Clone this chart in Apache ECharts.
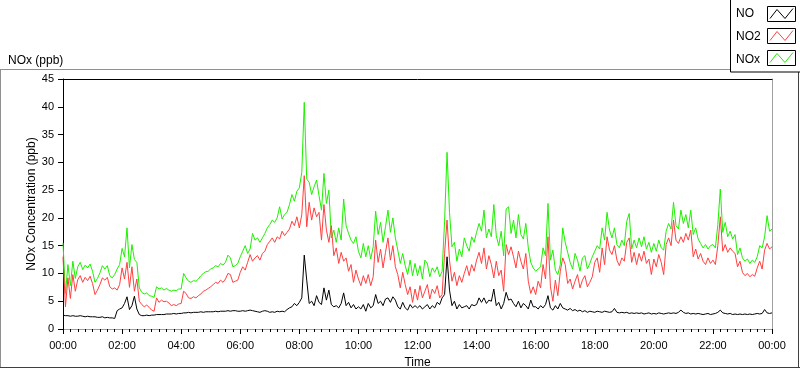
<!DOCTYPE html>
<html><head><meta charset="utf-8">
<script src="https://cdn.jsdelivr.net/npm/echarts/dist/echarts.min.js"></script>
<style>html,body{margin:0;padding:0;background:#fff}#c{width:800px;height:369px}</style>
</head><body><div id="c"></div>
<script>
// ---- data (5-minute samples, 00:00 .. 24:00) ----
const stepMinutes = 5;
const seriesNames = ['NO', 'NO2', 'NOx'];
const chartTitle = 'NOx (ppb)';
const yAxisTitle = 'NOx Concentration (ppb)';
const xAxisTitle = 'Time';
const yMin = 0, yMax = 45, yStep = 5;
const xMinMinutes = 0, xMaxMinutes = 1440, xStepMinutes = 120;

const no = [
  2.5, 2.4, 2.4, 2.3, 2.4, 2.3, 2.3, 2.4, 2.3, 2.2, 2.3, 2.2,
  2.2, 2.2, 2.1, 2.1, 2.2, 2.0, 2.1, 2.0, 2.0, 1.9, 3.3, 3.6,
  3.8, 4.6, 5.8, 3.5, 4.2, 5.9, 3.6, 2.6, 2.4, 2.4, 2.5, 2.4,
  2.5, 2.5, 2.6, 2.6, 2.6, 2.6, 2.7, 2.7, 2.7, 2.8, 2.7, 2.8,
  2.8, 2.9, 2.9, 3.0, 2.9, 3.0, 3.0, 3.0, 3.1, 3.0, 3.1, 3.1,
  3.1, 3.1, 3.2, 3.1, 3.2, 3.2, 3.2, 3.3, 3.2, 3.3, 3.3, 3.2,
  3.2, 3.3, 3.2, 3.3, 3.4, 3.3, 3.2, 3.1, 3.0, 3.2, 3.3, 3.2,
  3.0, 3.1, 3.0, 3.2, 3.1, 3.2, 3.1, 3.5, 3.8, 4.0, 4.6, 4.2,
  4.8, 5.6, 13.3, 8.8, 4.6, 5.0, 4.2, 6.0, 4.8, 4.4, 7.4, 5.2,
  7.0, 4.4, 4.0, 4.2, 3.8, 4.6, 6.5, 4.2, 4.8, 3.8, 4.4, 3.6,
  4.0, 3.6, 4.4, 3.2, 4.6, 3.8, 4.2, 6.2, 4.6, 5.0, 4.2, 5.4,
  5.6, 4.8, 5.8, 5.2, 4.0, 3.6, 4.8, 3.8, 3.4, 4.4, 3.8, 4.2,
  3.8, 4.2, 3.6, 4.0, 4.4, 3.6, 4.2, 3.8, 4.8, 4.4, 5.6, 6.2,
  13.0, 7.0, 4.2, 5.0, 3.6, 4.4, 3.8, 4.0, 4.2, 3.6, 4.4, 4.2,
  4.4, 5.6, 4.8, 5.6, 4.6, 5.2, 5.0, 7.2, 4.2, 4.8, 3.6, 4.6,
  6.6, 5.2, 5.4, 4.6, 4.0, 5.0, 3.8, 4.6, 4.2, 3.6, 5.2, 4.0,
  4.0, 3.6, 4.2, 3.8, 4.4, 6.0, 3.8, 3.4, 4.2, 3.6, 4.6, 3.8,
  3.6, 3.4, 3.7, 3.3, 3.5, 3.2, 3.4, 3.1, 3.3, 3.0, 3.2, 3.1,
  3.0, 3.2, 3.1, 3.0, 3.2, 3.1, 3.0, 3.1, 3.7, 3.0, 2.9, 3.0,
  2.9, 3.0, 2.8, 2.9, 2.8, 2.9, 2.8, 2.9, 2.7, 2.8, 2.9, 2.7,
  2.8, 2.7, 2.9, 2.8, 2.7, 2.8, 2.9, 2.8, 2.9, 2.8, 3.0, 3.4,
  3.0, 2.8, 2.9, 2.7, 2.8, 2.7, 2.8, 2.7, 2.6, 2.7, 2.8, 2.6,
  2.7, 2.8, 3.0, 3.4, 2.9, 2.8, 2.7, 2.8, 2.6, 2.7, 2.6, 2.7,
  2.6, 2.7, 2.6, 2.7, 2.6, 2.7, 2.8, 2.7, 2.8, 3.5, 2.9, 2.8,
  2.9
];

const no2 = [
  13.0, 4.0, 9.2, 5.5, 9.8, 6.8, 8.9, 9.6, 8.4, 9.3, 8.7, 9.5,
  8.2, 6.2, 7.0, 8.0, 9.2, 8.8, 9.3, 7.6, 7.2, 7.4, 7.0, 8.0,
  11.0, 9.0, 12.0, 7.5, 11.2, 6.8, 9.0, 5.0, 4.4, 4.0, 4.3, 3.9,
  3.4, 3.2, 5.6, 4.8, 5.2, 4.9, 5.0, 4.7, 4.2, 4.4, 4.2, 4.5,
  4.6, 6.8, 6.4, 5.6, 5.5, 5.8, 5.6, 6.0, 6.3, 6.8, 7.0, 7.3,
  7.6, 8.0, 8.4, 8.2, 8.8, 8.4, 9.0, 10.0, 9.8, 8.4, 8.6, 8.8,
  10.2, 11.2, 10.6, 12.0, 13.4, 12.2, 12.8, 13.2, 12.4, 13.6, 14.0, 15.2,
  15.8, 16.4, 15.6, 16.6, 16.2, 17.6, 16.8, 17.4, 18.0, 19.4, 18.6, 20.2,
  18.2, 20.6, 27.6, 18.4, 22.8, 19.6, 21.8, 20.2, 21.0, 16.0, 22.4, 17.8,
  15.6, 18.6, 13.2, 14.6, 11.8, 13.8, 12.2, 12.8, 10.4, 11.6, 8.4, 10.6,
  9.0, 7.8, 9.6, 8.2, 9.8, 7.8, 9.4, 16.0, 12.0, 14.4, 11.0, 13.8,
  16.4, 12.4, 15.0, 11.2, 9.8, 7.4, 10.2, 8.0, 6.2, 7.6, 4.8, 7.2,
  5.2, 7.8, 5.6, 6.8, 8.0, 5.4, 7.2, 6.4, 7.8, 5.6, 6.2, 13.6,
  19.6, 12.4, 8.6, 10.2, 7.8, 9.6, 8.4, 10.0, 11.4, 9.6, 11.6, 10.4,
  12.4, 13.8, 11.8, 14.6, 10.8, 13.2, 11.6, 9.2, 12.2, 9.6, 10.6, 6.8,
  15.2, 13.4, 14.8, 13.0, 11.0, 14.0, 12.2, 10.8, 13.6, 8.6, 6.4, 7.6,
  6.2, 8.6, 7.4, 11.6, 9.0, 16.6, 7.6, 5.0, 8.8, 6.0, 10.4, 12.8,
  11.6, 8.2, 9.0, 7.2, 8.6, 9.8, 7.4, 8.8, 9.6, 7.6, 8.4, 9.4,
  12.0, 12.8, 10.2, 14.6, 11.6, 16.6, 14.2, 13.4, 15.0, 12.4, 11.4, 12.8,
  12.2, 15.6, 16.4, 12.0, 13.8, 11.6, 13.6, 12.2, 14.0, 11.8, 12.6, 9.8,
  12.6, 11.2, 13.4, 12.0, 9.8, 15.2, 16.4, 15.0, 19.6, 16.0, 15.4, 16.6,
  15.6, 17.2, 16.0, 17.8, 13.0, 14.4, 12.6, 13.6, 12.2, 11.6, 12.8, 11.8,
  12.4, 11.6, 15.0, 20.2, 14.0, 15.2, 13.8, 14.6, 14.0, 13.6, 11.2, 12.2,
  10.2, 9.6, 10.0, 9.4, 9.8, 9.5, 11.0, 12.2, 10.8, 14.2, 15.4, 14.4,
  14.8
];

const nox = [
  15.5, 6.4, 11.6, 7.8, 12.2, 9.1, 11.2, 12.0, 10.7, 11.5, 11.0, 11.7,
  10.4, 8.4, 9.1, 10.1, 11.4, 10.8, 11.4, 9.6, 9.2, 9.8, 10.8, 11.6,
  14.5, 13.0, 18.2, 11.0, 15.2, 12.5, 12.0, 7.4, 6.6, 6.3, 6.5, 6.0,
  5.9, 5.7, 7.6, 7.2, 7.4, 7.0, 7.3, 7.0, 6.8, 7.0, 6.9, 7.2,
  7.2, 10.0, 9.2, 8.6, 8.4, 8.7, 8.6, 9.0, 9.6, 10.0, 10.3, 10.4,
  10.8, 11.0, 11.4, 11.2, 11.8, 11.5, 12.0, 13.3, 12.8, 11.2, 11.4, 11.8,
  13.0, 14.0, 15.0, 13.6, 14.4, 17.2, 16.0, 16.4, 15.6, 16.4, 17.2, 18.2,
  18.8, 19.6, 19.2, 20.0, 22.0, 19.8, 20.6, 21.0, 22.4, 24.2, 23.0, 24.8,
  25.4, 28.2, 40.8, 27.0, 26.4, 24.2, 25.6, 26.8, 24.0, 21.4, 28.0, 22.6,
  25.0, 16.4, 17.8, 15.6, 18.2, 16.0, 23.4, 18.6, 17.2, 16.0, 15.4, 16.6,
  14.0, 12.8, 15.4, 13.0, 15.0, 12.6, 14.8, 21.2, 17.0, 19.2, 15.6, 18.4,
  21.4, 17.4, 20.0, 16.4, 14.2, 11.8, 13.6, 11.4, 9.8, 12.4, 9.6, 11.8,
  9.6, 11.4, 9.0, 12.4, 11.8, 9.4, 11.0, 10.2, 11.2, 9.4, 10.4, 19.4,
  31.8, 21.0, 14.8, 15.6, 12.2, 14.4, 13.0, 16.4, 15.0, 14.0, 16.6, 15.6,
  17.4, 19.0, 17.6, 21.4, 16.4, 18.0, 16.6, 22.4, 16.8, 15.0, 17.6, 13.2,
  21.6, 22.0, 17.2, 19.6, 16.4, 20.6, 17.0, 16.2, 19.0, 14.6, 12.0, 11.0,
  10.4, 10.8, 11.2, 14.6, 13.2, 22.6, 12.4, 14.2, 10.6, 9.8, 11.6, 18.2,
  15.6, 13.8, 12.0, 10.8, 13.6, 12.4, 10.4, 12.8, 13.2, 10.8, 11.8, 13.0,
  14.0, 15.0, 14.4, 18.2, 16.0, 21.0, 17.8, 16.4, 18.2, 15.2, 14.6, 16.0,
  15.0, 19.4, 20.8, 14.4, 16.0, 14.6, 16.4, 14.8, 16.6, 14.4, 15.6, 13.8,
  15.4, 14.0, 16.0, 14.6, 14.2, 17.6, 19.0, 18.0, 22.8, 18.6, 18.0, 21.4,
  19.0, 20.6, 18.2, 21.4, 17.0, 18.2, 16.2, 15.4, 14.6, 15.2, 14.4, 15.0,
  15.2, 14.6, 18.8, 25.2, 17.4, 19.2, 16.6, 17.6, 16.2, 17.0, 13.4, 14.6,
  12.8, 12.2, 12.6, 11.8, 12.4, 12.0, 13.0, 15.0, 14.6, 16.6, 20.4, 17.6,
  18.0
];

// ---- styling ----
const colors = { NO: '#000000', NO2: '#ff4040', NOx: '#1ef000' };
const FONT = '"Liberation Sans", Arial, sans-serif';

function pair(arr) { return arr.map((v, i) => [i * stepMinutes, v]); }
function pad(n) { return (n < 10 ? '0' : '') + n; }
function fmtTime(v) { const m = Math.round(v); return pad(Math.floor(m / 60) % 24) + ':' + pad(m % 60); }

const valuesByName = { NO: no, NO2: no2, NOx: nox };
const drawOrder = ['NOx', 'NO2', 'NO'];

const chart = echarts.init(document.getElementById('c'), null, { renderer: 'canvas' });

// legend graphics (boxes + zigzag swatches + texts)
const legendGraphics = [
  { type: 'rect', z: 100, shape: { x: 730.5, y: -1, width: 70, height: 73 },
    style: { fill: '#fff', stroke: '#000', lineWidth: 1 } }
];
seriesNames.forEach((name, i) => {
  const top = 6.5 + i * 22;
  legendGraphics.push({ type: 'text', z: 101, x: 736, y: 13.5 + i * 23,
    style: { text: name, font: '12px ' + FONT, fill: '#000', textVerticalAlign: 'middle', verticalAlign: 'middle' } });
  legendGraphics.push({ type: 'rect', z: 101, shape: { x: 767.5, y: top, width: 28, height: 15 },
    style: { fill: '#fff', stroke: '#000', lineWidth: 1 } });
  legendGraphics.push({ type: 'polyline', z: 102,
    shape: { points: [[770, top + 12], [777, top + 3], [785, top + 12], [793, top + 2]] },
    style: { stroke: colors[name], lineWidth: 1, fill: null } });
});

const option = {
  animation: false,
  backgroundColor: '#fff',
  title: { text: chartTitle, left: 3, top: 50,
    textStyle: { fontFamily: FONT, fontSize: 12, fontWeight: 'normal', color: '#000' } },
  grid: { left: 63, right: 28, top: 79, bottom: 40, containLabel: false, outerBoundsMode: 'none' },
  xAxis: [
    { type: 'value', min: xMinMinutes, max: xMaxMinutes, interval: xStepMinutes,
      name: xAxisTitle, nameLocation: 'middle', nameGap: 28, nameMoveOverlap: false,
      nameTextStyle: { fontFamily: FONT, fontSize: 12, color: '#000' },
      axisLine: { show: true, lineStyle: { color: '#a0a0a0', width: 1 } },
      axisTick: { show: true, length: 5, lineStyle: { color: '#000' } },
      minorTick: { show: true, splitNumber: 8, length: 3, lineStyle: { color: '#000' } },
      splitLine: { show: false },
      axisLabel: { formatter: fmtTime, margin: 11, fontFamily: FONT, fontSize: 11, color: '#000', showMinLabel: true, showMaxLabel: true } },
    { type: 'value', position: 'top', min: xMinMinutes, max: xMaxMinutes,
      axisLine: { show: true, onZero: false, lineStyle: { color: '#000', width: 1 } },
      axisTick: { show: false }, axisLabel: { show: false }, splitLine: { show: false } }
  ],
  yAxis: [
    { type: 'value', min: yMin, max: yMax, interval: yStep,
      name: yAxisTitle, nameLocation: 'middle', nameGap: 25, nameRotate: 90, nameMoveOverlap: false,
      nameTextStyle: { fontFamily: FONT, fontSize: 12, color: '#000' },
      axisLine: { show: true, lineStyle: { color: '#000', width: 1 } },
      axisTick: { show: true, length: 5, lineStyle: { color: '#000' } },
      splitLine: { show: false },
      axisLabel: { margin: 9, fontFamily: FONT, fontSize: 11, color: '#000' } },
    { type: 'value', position: 'right', min: yMin, max: yMax,
      axisLine: { show: true, onZero: false, lineStyle: { color: '#a0a0a0', width: 1 } },
      axisTick: { show: false }, axisLabel: { show: false }, splitLine: { show: false } }
  ],
  series: drawOrder.map((name) => ({
    name: name, type: 'line', xAxisIndex: 0, yAxisIndex: 0,
    data: pair(valuesByName[name]),
    showSymbol: false, symbol: 'none',
    lineStyle: { color: colors[name], width: 1 },
    itemStyle: { color: colors[name] },
    emphasis: { disabled: true }, silent: true
  })),
  graphic: [
    { type: 'line', z: 50, shape: { x1: 0, y1: 69.5, x2: 800, y2: 69.5 }, style: { stroke: '#909090', lineWidth: 1 } },
    { type: 'line', z: 50, shape: { x1: 0.5, y1: 69.5, x2: 0.5, y2: 368 }, style: { stroke: '#909090', lineWidth: 1 } },
    { type: 'line', z: 50, shape: { x1: 0, y1: 367.5, x2: 800, y2: 367.5 }, style: { stroke: '#404040', lineWidth: 1 } },
    { type: 'line', z: 50, shape: { x1: 798.5, y1: 69.5, x2: 798.5, y2: 368 }, style: { stroke: '#404040', lineWidth: 1 } }
  ].concat(legendGraphics)
};
chart.setOption(option);
</script>
</body></html>
